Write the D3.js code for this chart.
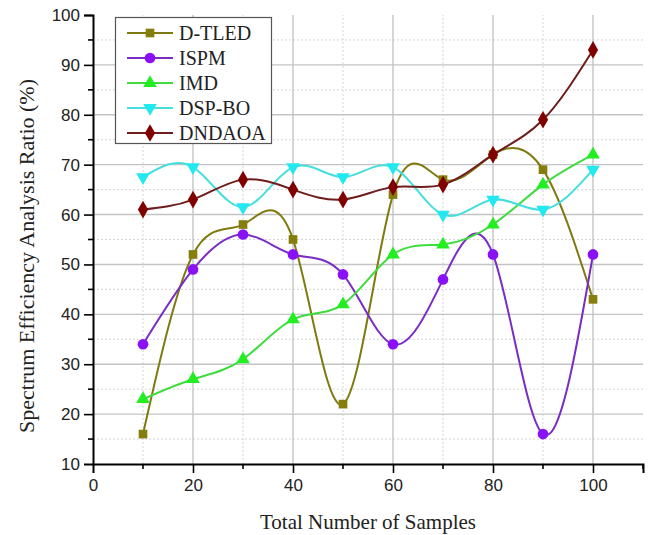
<!DOCTYPE html>
<html>
<head>
<meta charset="utf-8">
<script src="https://cdn.jsdelivr.net/npm/d3@7"></script>
<style>
  body { margin: 0; background: #fff; }
  svg { display: block; }
</style>
</head>
<body>
<svg></svg>
<script>
var W = 657, H = 535;

// data
var samples = [10, 20, 30, 40, 50, 60, 70, 80, 90, 100];
var dtled  = [16, 52, 58, 55, 22, 64, 67, 72, 69, 43];
var ispm   = [34, 49, 56, 52, 48, 34, 47, 52, 16, 52];
var imd    = [23, 27, 31, 39, 42, 52, 54, 58, 66, 72];
var dspbo  = [67.5, 69.5, 61.5, 69.5, 67.5, 69.5, 60, 63, 61, 69];
var dndaoa = [61, 63, 67, 65, 63, 65.5, 66, 72, 79, 93];

var xTicks = [0, 20, 40, 60, 80, 100];
var xMinor = [10, 30, 50, 70, 90, 110];
var yTicks = [10, 20, 30, 40, 50, 60, 70, 80, 90, 100];
var yMinor = [15, 25, 35, 45, 55, 65, 75, 85, 95];

var series = [
  {name: "D-TLED", vals: dtled,  line: "#7f7a10", fill: "#857d0c", sym: d3.symbolSquare,   size: 75},
  {name: "ISPM",   vals: ispm,   line: "#7a2cc4", fill: "#8a10f5", sym: d3.symbolCircle,   size: 90},
  {name: "IMD",    vals: imd,    line: "#3fdc3f", fill: "#22ee22", sym: d3.symbolTriangle, size: 80},
  {name: "DSP-BO", vals: dspbo,  line: "#45dede", fill: "#22e8f0", sym: "down",            size: 80},
  {name: "DNDAOA", vals: dndaoa, line: "#6e1c1c", fill: "#800000", sym: d3.symbolDiamond,  size: 90}
];

var svg = d3.select("svg").attr("width", W).attr("height", H);

var x = d3.scaleLinear().domain([0, 110]).range([93, 643]);
var y = d3.scaleLinear().domain([10, 100]).range([464, 15]);

// grid
var grid = svg.append("g");
grid.selectAll(".hmin").data(yMinor).join("line")
  .attr("x1", x(0)).attr("x2", x(110))
  .attr("y1", d => y(d)).attr("y2", d => y(d))
  .attr("stroke", "#d6d6d6").attr("stroke-dasharray", "2,2");
grid.selectAll(".vmin").data(xMinor.slice(0, 5)).join("line")
  .attr("y1", y(10)).attr("y2", y(100))
  .attr("x1", d => x(d)).attr("x2", d => x(d))
  .attr("stroke", "#d6d6d6").attr("stroke-dasharray", "2,2");
grid.selectAll(".hmaj").data(yTicks.slice(1, 9)).join("line")
  .attr("x1", x(0)).attr("x2", x(110))
  .attr("y1", d => y(d)).attr("y2", d => y(d))
  .attr("stroke", "#c4c4c4").attr("stroke-width", 1.4);
grid.selectAll(".vmaj").data(xTicks.slice(1)).join("line")
  .attr("y1", y(10)).attr("y2", y(100))
  .attr("x1", d => x(d)).attr("x2", d => x(d))
  .attr("stroke", "#c4c4c4").attr("stroke-width", 1.4);

// axes
var xAxis = d3.axisBottom(x).tickValues(xTicks).tickSize(9).tickPadding(6).tickFormat(d3.format("d"));
var yAxis = d3.axisLeft(y).tickValues(yTicks).tickSize(9).tickPadding(4).tickFormat(d3.format("d"));

var gx = svg.append("g").attr("transform", "translate(0," + y(10) + ")").call(xAxis);
var gy = svg.append("g").attr("transform", "translate(" + x(0) + ",0)").call(yAxis);
gx.selectAll(".tick").filter(d => d === 0).select("line").remove();
gy.selectAll(".tick").filter(d => d === 10).select("line").remove();

gx.selectAll(".xm").data(xMinor).join("line")
  .attr("x1", d => x(d)).attr("x2", d => x(d)).attr("y1", 0).attr("y2", 5)
  .attr("stroke", "#000").attr("stroke-width", 1.6);
gy.selectAll(".ym").data(yMinor).join("line")
  .attr("y1", d => y(d)).attr("y2", d => y(d)).attr("x1", 0).attr("x2", -5)
  .attr("stroke", "#000").attr("stroke-width", 1.6);

[gx, gy].forEach(function (g) {
  g.select(".domain").attr("stroke", "#000").attr("stroke-width", 2);
  g.selectAll(".tick line").attr("stroke", "#000").attr("stroke-width", 1.6);
  g.selectAll(".tick text").attr("fill", "#222")
    .style("font-family", "'Liberation Sans', Arial, sans-serif").style("font-size", "17px");
});

// axis titles
svg.append("text")
  .attr("x", (x(0) + x(110)) / 2).attr("y", 529)
  .attr("text-anchor", "middle")
  .style("font-family", "'Liberation Serif', 'Times New Roman', serif").style("font-size", "21px")
  .attr("fill", "#222")
  .text("Total Number of Samples");
svg.append("text")
  .attr("transform", "translate(34,256)rotate(-90)")
  .attr("text-anchor", "middle")
  .style("font-family", "'Liberation Serif', 'Times New Roman', serif").style("font-size", "22px")
  .attr("fill", "#222")
  .text("Spectrum Efficiency Analysis Ratio (%)");

// symbols
function symPath(s) {
  if (s.sym === "down") {
    return d3.symbol(d3.symbolTriangle, s.size)();
  }
  return d3.symbol(s.sym, s.size)();
}
function symRot(s) { return s.sym === "down" ? "rotate(180)" : ""; }

var line = d3.line().curve(d3.curveNatural)
  .x(d => x(d[0])).y(d => y(d[1]));

series.forEach(function (s) {
  var pts = samples.map((v, i) => [v, s.vals[i]]);
  var g = svg.append("g");
  g.append("path").attr("d", line(pts))
    .attr("fill", "none").attr("stroke", s.line).attr("stroke-width", 2);
  g.selectAll("path.m").data(pts).join("path").attr("class", "m")
    .attr("d", symPath(s))
    .attr("transform", d => "translate(" + x(d[0]) + "," + y(d[1]) + ")" + symRot(s))
    .attr("fill", s.fill);
});

// legend
var lg = svg.append("g");
lg.append("rect").attr("x", 115.5).attr("y", 17.5).attr("width", 156).attr("height", 126)
  .attr("fill", "#fff").attr("stroke", "#555").attr("stroke-width", 1.2);
series.forEach(function (s, i) {
  var cy = 33 + i * 25;
  lg.append("line").attr("x1", 127).attr("x2", 173).attr("y1", cy).attr("y2", cy)
    .attr("stroke", s.line).attr("stroke-width", 2);
  lg.append("path").attr("d", symPath(s))
    .attr("transform", "translate(150," + cy + ")" + symRot(s)).attr("fill", s.fill);
  lg.append("text").attr("x", 179).attr("y", cy + 7)
    .style("font-family", "'Liberation Serif', 'Times New Roman', serif").style("font-size", "20px")
    .attr("fill", "#222")
    .text(s.name);
});
</script>
</body>
</html>
